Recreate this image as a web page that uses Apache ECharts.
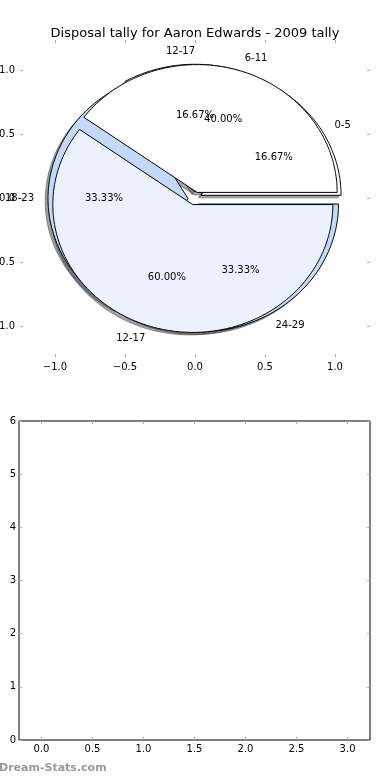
<!DOCTYPE html>
<html>
<head>
<meta charset="utf-8">
<script src="https://cdn.jsdelivr.net/npm/echarts@6/dist/echarts.min.js"></script>
<style>
html,body{margin:0;padding:0;background:#fff;}
#main{width:390px;height:780px;}
</style>
</head>
<body>
<div id="main"></div>
<script>
const chartTitle = 'Disposal tally for Aaron Edwards - 2009 tally';
const watermark = 'Dream-Stats.com';

// first pie
const pieALabels = ['0-5', '12-17', '18-23', '24-29'];
const pieAValues = [1, 1, 2, 2];
const pieAColors = ['#ffffff', '#ffffff', '#c5d8f8', '#c5d8f8'];
// second pie (drawn on top)
const pieBLabels = ['6-11', '12-17'];
const pieBValues = [2, 3];
const pieBColors = ['#ffffff', '#ecf2fd'];

const pieTicks = [-1, -0.5, 0, 0.5, 1];
const barXTicks = [0, 0.5, 1, 1.5, 2, 2.5, 3];
const barYTicks = [0, 1, 2, 3, 4, 5, 6];

const EXPLODE = 0.05, LABEL_DIST = 1.1, PCT_DIST = 0.6, SHADOW_OFF = -0.02;

const pies = [
  { labels: pieALabels, values: pieAValues, colors: pieAColors },
  { labels: pieBLabels, values: pieBValues, colors: pieBColors }
];

// pie layout (start at 0 deg, counter-clockwise)
const wedges = [];
pies.forEach((p, pi) => {
  const total = p.values.reduce((a, b) => a + b, 0);
  let acc = 0;
  p.values.forEach((v, i) => {
    const t1 = acc / total * 360;
    acc += v;
    const t2 = acc / total * 360;
    const tm = (t1 + t2) / 2 * Math.PI / 180;
    const ox = EXPLODE * Math.cos(tm), oy = EXPLODE * Math.sin(tm);
    wedges.push({
      pie: pi, t1, t2, ox, oy, color: p.colors[i], label: p.labels[i],
      pct: (v / total * 100).toFixed(2) + '%',
      lx: ox + LABEL_DIST * Math.cos(tm), ly: oy + LABEL_DIST * Math.sin(tm),
      px: ox + PCT_DIST * Math.cos(tm), py: oy + PCT_DIST * Math.sin(tm)
    });
  });
});

function hexToRgb(h) {
  const n = parseInt(h.slice(1), 16);
  return [(n >> 16) & 255, (n >> 8) & 255, n & 255];
}

function wedgePoints(api, w, dx, dy) {
  const cx = w.ox + dx, cy = w.oy + dy;
  const pts = [api.coord([cx, cy])];
  const steps = Math.max(8, Math.ceil(w.t2 - w.t1));
  for (let s = 0; s <= steps; s++) {
    const a = (w.t1 + (w.t2 - w.t1) * s / steps) * Math.PI / 180;
    pts.push(api.coord([cx + Math.cos(a), cy + Math.sin(a)]));
  }
  return pts;
}

function makeWedgeSeries(list, kind, z) {
  return {
    type: 'custom', coordinateSystem: 'cartesian2d', xAxisIndex: 0, yAxisIndex: 0,
    clip: false, silent: true, z: z, animation: false,
    data: list.map(w => [w.ox, w.oy]),
    renderItem: function (params, api) {
      const w = list[params.dataIndex];
      if (kind === 'shadow') {
        const c = hexToRgb(w.color).map(x => Math.round(x * 0.3));
        const col = 'rgba(' + c.join(',') + ',0.5)';
        return { type: 'polygon', shape: { points: wedgePoints(api, w, SHADOW_OFF, SHADOW_OFF) },
          style: { fill: col, stroke: col, lineWidth: 1 } };
      }
      return { type: 'polygon', shape: { points: wedgePoints(api, w, 0, 0) },
        style: { fill: w.color, stroke: '#000', lineWidth: 1, lineJoin: 'miter' } };
    }
  };
}

const textSeries = {
  type: 'custom', coordinateSystem: 'cartesian2d', xAxisIndex: 0, yAxisIndex: 0,
  clip: false, silent: true, z: 10, animation: false,
  data: wedges.map(w => [w.lx, w.ly]),
  renderItem: function (params, api) {
    const w = wedges[params.dataIndex];
    const lp = api.coord([w.lx, w.ly]);
    const pp = api.coord([w.px, w.py]);
    const font = '10px "DejaVu Sans"';
    return {
      type: 'group',
      children: [
        { type: 'text', x: lp[0], y: lp[1],
          style: { text: w.label, font: font, fill: '#000',
            textAlign: Math.cos((w.t1 + w.t2) / 2 * Math.PI / 180) > 1e-9 ? 'left' : 'right', textVerticalAlign: 'middle' } },
        { type: 'text', x: pp[0], y: pp[1],
          style: { text: w.pct, font: font, fill: '#000', textAlign: 'center', textVerticalAlign: 'middle' } }
      ]
    };
  }
};

const fmt1 = function (v) {
  const n = Math.round(Number(v) * 10) / 10;
  if (n === 0) return '0.0';
  return (n < 0 ? '\u2212' : '') + Math.abs(n).toFixed(1);
};
// only label values that are in the pie tick list
const fmtPieX = function (v) {
  const n = Math.round(Number(v) * 100) / 100;
  return pieTicks.indexOf(n) >= 0 || (n === 0 && pieTicks.indexOf(0) >= 0) ? fmt1(n) : '';
};
const tickStyle = { show: true, inside: true, length: 3, lineStyle: { color: '#aaaaaa', width: 1 } };
const lblStyle = { color: '#000', fontFamily: 'DejaVu Sans', fontSize: 10 };

function valAxis(extra) {
  return Object.assign({
    type: 'value', splitLine: { show: false }, axisLine: { show: false, onZero: false },
    axisPointer: { show: false }
  }, extra);
}

const option = {
  backgroundColor: '#ffffff',
  animation: false,
  title: {
    text: chartTitle, left: 'center', top: 22,
    textStyle: { fontFamily: 'DejaVu Sans', fontSize: 13, fontWeight: 'normal', color: '#000' }
  },
  graphic: [{
    type: 'text', left: -1, top: 763,
    style: { text: watermark, font: 'bold 11px "DejaVu Sans"', fill: '#999999' }
  }],
  grid: [
    { left: 20, right: 20, top: 40, height: 317, containLabel: false, outerBoundsMode: 'none' },
    { left: 19, right: 20, top: 421, height: 319, containLabel: false, outerBoundsMode: 'none',
      show: true, borderColor: '#000', borderWidth: 1, backgroundColor: 'transparent' }
  ],
  xAxis: [
    valAxis({ gridIndex: 0, position: 'bottom', min: -1.25, max: 1.25, interval: 0.25,
      axisTick: Object.assign({ customValues: pieTicks }, tickStyle),
      axisLabel: Object.assign({ formatter: fmtPieX, margin: 5, showMinLabel: false, showMaxLabel: false, hideOverlap: false }, lblStyle) }),
    valAxis({ gridIndex: 0, position: 'top', min: -1.25, max: 1.25,
      axisTick: Object.assign({ customValues: pieTicks }, tickStyle),
      axisLabel: { show: false } }),
    valAxis({ gridIndex: 1, position: 'bottom', min: -0.22, max: 3.22,
      axisTick: Object.assign({ customValues: barXTicks }, tickStyle),
      axisLabel: Object.assign({ customValues: barXTicks, formatter: fmt1, margin: 4 }, lblStyle) }),
    valAxis({ gridIndex: 1, position: 'top', min: -0.22, max: 3.22,
      axisTick: Object.assign({ customValues: barXTicks }, tickStyle),
      axisLabel: { show: false } })
  ],
  yAxis: [
    valAxis({ gridIndex: 0, position: 'left', min: -1.24, max: 1.24,
      axisTick: Object.assign({ customValues: pieTicks }, tickStyle),
      axisLabel: Object.assign({ customValues: pieTicks, formatter: fmt1, margin: 5 }, lblStyle) }),
    valAxis({ gridIndex: 0, position: 'right', min: -1.24, max: 1.24,
      axisTick: Object.assign({ customValues: pieTicks }, tickStyle),
      axisLabel: { show: false } }),
    valAxis({ gridIndex: 1, position: 'left', min: 0, max: 6, interval: 1,
      axisTick: Object.assign({ customValues: barYTicks }, tickStyle),
      axisLabel: Object.assign({ customValues: barYTicks, formatter: v => String(v), margin: 3 }, lblStyle) }),
    valAxis({ gridIndex: 1, position: 'right', min: 0, max: 6, interval: 1,
      axisTick: Object.assign({ customValues: barYTicks }, tickStyle),
      axisLabel: { show: false } })
  ],
  series: [
    makeWedgeSeries(wedges, 'shadow', 1),
    makeWedgeSeries(wedges.filter(w => w.pie === 0), 'wedge', 2),
    makeWedgeSeries(wedges.filter(w => w.pie === 1), 'wedge', 3),
    textSeries,
    { type: 'scatter', xAxisIndex: 2, yAxisIndex: 2, data: [], silent: true }
  ]
};

const chart = echarts.init(document.getElementById('main'), null, { renderer: 'canvas' });
chart.setOption(option);
</script>
</body>
</html>
